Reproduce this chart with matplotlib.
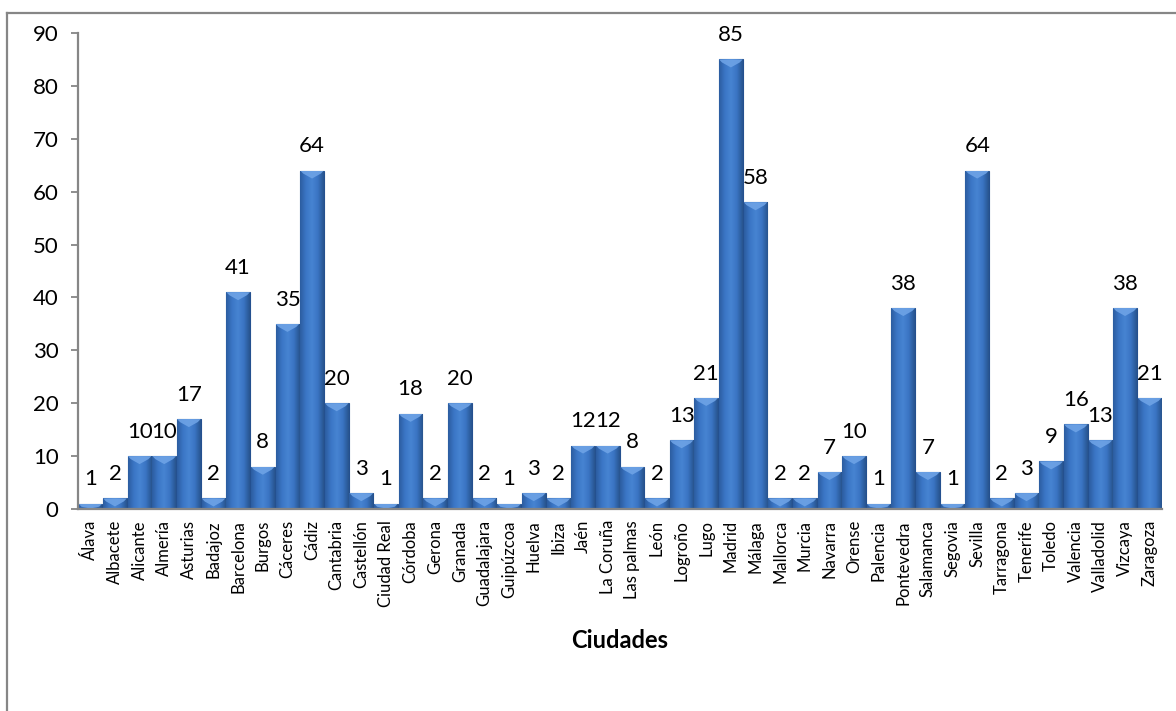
import numpy as np
import matplotlib.pyplot as plt
from matplotlib.patches import Polygon
from matplotlib.lines import Line2D
from matplotlib.colors import LinearSegmentedColormap

ciudades = ["Álava", "Albacete", "Alicante", "Almería", "Asturias", "Badajoz",
            "Barcelona", "Burgos", "Cáceres", "Cádiz", "Cantabria", "Castellón",
            "Ciudad Real", "Córdoba", "Gerona", "Granada", "Guadalajara",
            "Guipúzcoa", "Huelva", "Ibiza", "Jaén", "La Coruña", "Las palmas",
            "León", "Logroño", "Lugo", "Madrid", "Málaga", "Mallorca", "Murcia",
            "Navarra", "Orense", "Palencia", "Pontevedra", "Salamanca", "Segovia",
            "Sevilla", "Tarragona", "Tenerife", "Toledo", "Valencia", "Valladolid",
            "Vizcaya", "Zaragoza"]
valores = [1, 2, 10, 10, 17, 2, 41, 8, 35, 64, 20, 3, 1, 18, 2, 20, 2, 1, 3, 2,
           12, 12, 8, 2, 13, 21, 85, 58, 2, 2, 7, 10, 1, 38, 7, 1, 64, 2, 3, 9,
           16, 13, 38, 21]
yticks = [0, 10, 20, 30, 40, 50, 60, 70, 80, 90]

plt.rcParams['font.family'] = ['Lato', 'DejaVu Sans']

fig = plt.figure(figsize=(11.76, 7.11), dpi=100)
ax = fig.add_axes([78 / 1176, 1 - 509 / 711, (1162 - 78) / 1176, (509 - 33) / 711])

x = np.arange(len(ciudades))
width = 0.96
bars = ax.bar(x, valores, width=width, color='#3a72c2', edgecolor='#24508f',
              linewidth=0.8, zorder=2)

# horizontal shading inside each bar (darker sides, lighter middle)
shade = LinearSegmentedColormap.from_list(
    'shade', ['#2c5da0', '#3b76c6', '#4784d2', '#3a74c3', '#28558f'])
grad = np.linspace(0, 1, 64).reshape(1, -1)
px_per_unit = 476 / 90.0
for xi, v, b in zip(x, valores, bars):
    im = ax.imshow(grad, cmap=shade, aspect='auto', zorder=2.1,
                   extent=(xi - width / 2, xi + width / 2, 0, v))
    im.set_clip_path(b)
    # light chevron at the top of the bar
    depth = min(8 / px_per_unit, v * 0.9)
    inset = 3 / px_per_unit
    tri = Polygon([(xi - width / 2, v), (xi + width / 2, v),
                   (xi + width / 2 - 0.12, v - inset), (xi, v - depth),
                   (xi - width / 2 + 0.12, v - inset)],
                  closed=True, facecolor='#6ea3e6', edgecolor='none',
                  alpha=0.9, zorder=2.2)
    ax.add_patch(tri)
    tri.set_clip_path(b)
    ax.text(xi, v + 4.6, str(v), ha='center', va='center', fontsize=16,
            color='#000000', zorder=3)

ax.set_xlim(-0.5, len(ciudades) - 0.5)
ax.set_ylim(0, 90)
ax.set_yticks(yticks)
ax.set_yticklabels([str(t) for t in yticks], fontsize=16)
ax.set_xticks(x)
ax.set_xticklabels(ciudades, rotation=90, fontsize=12)
ax.tick_params(axis='x', length=0, pad=8)
ax.tick_params(axis='y', length=5, width=1.3, color='#868686', pad=9)

for side in ['top', 'right']:
    ax.spines[side].set_visible(False)
for side in ['left', 'bottom']:
    ax.spines[side].set_color('#868686')
    ax.spines[side].set_linewidth(1.6)
ax.spines['bottom'].set_zorder(4)

ax.set_xlabel('Ciudades', fontsize=17, fontweight='bold', labelpad=16)

# chart area frame (left and top edges)
fig.add_artist(Line2D([7 / 1176, 7 / 1176], [0, 1 - 13 / 711],
                      color='#868686', linewidth=1.6))
fig.add_artist(Line2D([7 / 1176, 1], [1 - 13 / 711, 1 - 13 / 711],
                      color='#868686', linewidth=1.6))

fig.savefig('out.png', dpi=100)
